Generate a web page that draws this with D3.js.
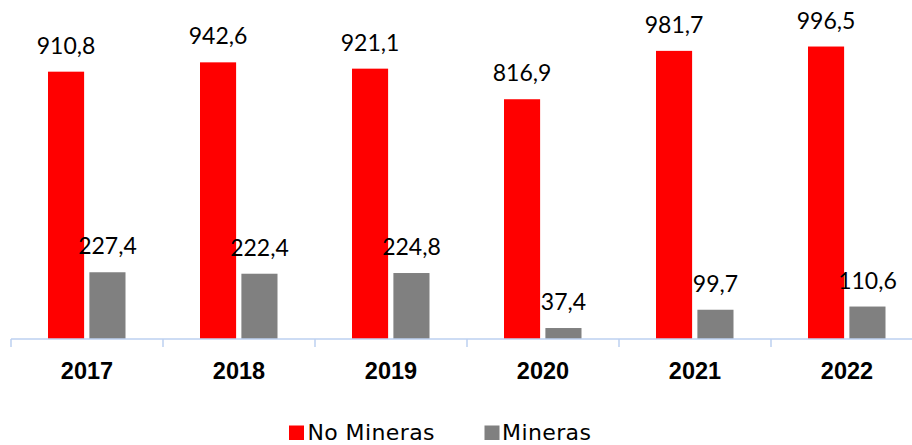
<!DOCTYPE html>
<html><head><meta charset="utf-8">
<script src="https://cdn.jsdelivr.net/npm/d3@7"></script>
<style>body{margin:0;background:#fff;overflow:hidden}</style>
</head><body><svg id="c" width="912" height="445"></svg>
<script>
const categories = ["2017","2018","2019","2020","2021","2022"];
const noMineras = [910.8, 942.6, 921.1, 816.9, 981.7, 996.5];
const mineras = [227.4, 222.4, 224.8, 37.4, 99.7, 110.6];
const seriesNames = ["No Mineras", "Mineras"];
const colors = ["#FF0000", "#808080"];

const svg = d3.select("#c");
const font = "'Century Gothic', 'URW Gothic', 'Lato', sans-serif";
const legFont = "'Century Gothic', 'DejaVu Sans', sans-serif";
const x = d3.scaleBand().domain(categories).range([11, 923]);
const y = d3.scaleLinear().domain([0, 1000]).range([339, 45.5]);
const fmt = v => v.toFixed(1).replace(".", ",");

const xs = d3.scaleBand().domain([0,1]).range([0, 34*2+9]).paddingInner(9/77);
const series = [noMineras, mineras];
series.forEach((vals, si) => {
  const g = svg.append("g");
  categories.forEach((c, i) => {
    const cx = x(c) + x.bandwidth()/2;
    const bx = cx - 38.5 + xs(si) + (si===0 ? -0.5 : 0);
    g.append("rect").attr("x", bx).attr("y", y(vals[i])).attr("width", xs.bandwidth())
      .attr("height", y(0) - y(vals[i])).attr("fill", colors[si]);
    g.append("text").attr("x", bx + xs.bandwidth()/2).attr("y", y(vals[i]) - 18)
      .attr("text-anchor", "middle").attr("font-family", font).attr("font-size", 23)
      .attr("fill", "#000").text(fmt(vals[i]));
  });
});

// axis
const axis = d3.axisBottom(x).tickSize(0).tickFormat(d => d);
const ag = svg.append("g").attr("transform", "translate(0,339)").call(axis);
ag.select(".domain").remove();
ag.append("line").attr("x1", 11).attr("x2", 923).attr("stroke", "#BDD0F0").attr("stroke-width", 1.5);
const bounds = categories.map(c => x(c)).concat([x.range()[1]]);
ag.selectAll(".bt").data(bounds).enter().append("line").attr("class","bt")
  .attr("x1", d => d).attr("x2", d => d).attr("y1", 0).attr("y2", 8)
  .attr("stroke", "#BDD0F0").attr("stroke-width", 1.5);
ag.selectAll(".tick text").attr("y", 40).attr("dy", 0)
  .attr("font-family", "'Liberation Sans', Arial, sans-serif").attr("font-weight", "bold")
  .attr("font-size", 23.5).attr("fill", "#000");

// legend
const leg = [{x: 289, tx: 307.5}, {x: 484.5, tx: 502}];
seriesNames.forEach((n, i) => {
  svg.append("rect").attr("x", leg[i].x).attr("y", 425.5).attr("width", 15).attr("height", 14.5).attr("fill", colors[i]);
  svg.append("text").attr("x", leg[i].tx).attr("y", 439.5).attr("font-family", legFont)
    .attr("font-size", 22).attr("letter-spacing", 0.4).attr("fill", "#000").text(n);
});
</script></body></html>
